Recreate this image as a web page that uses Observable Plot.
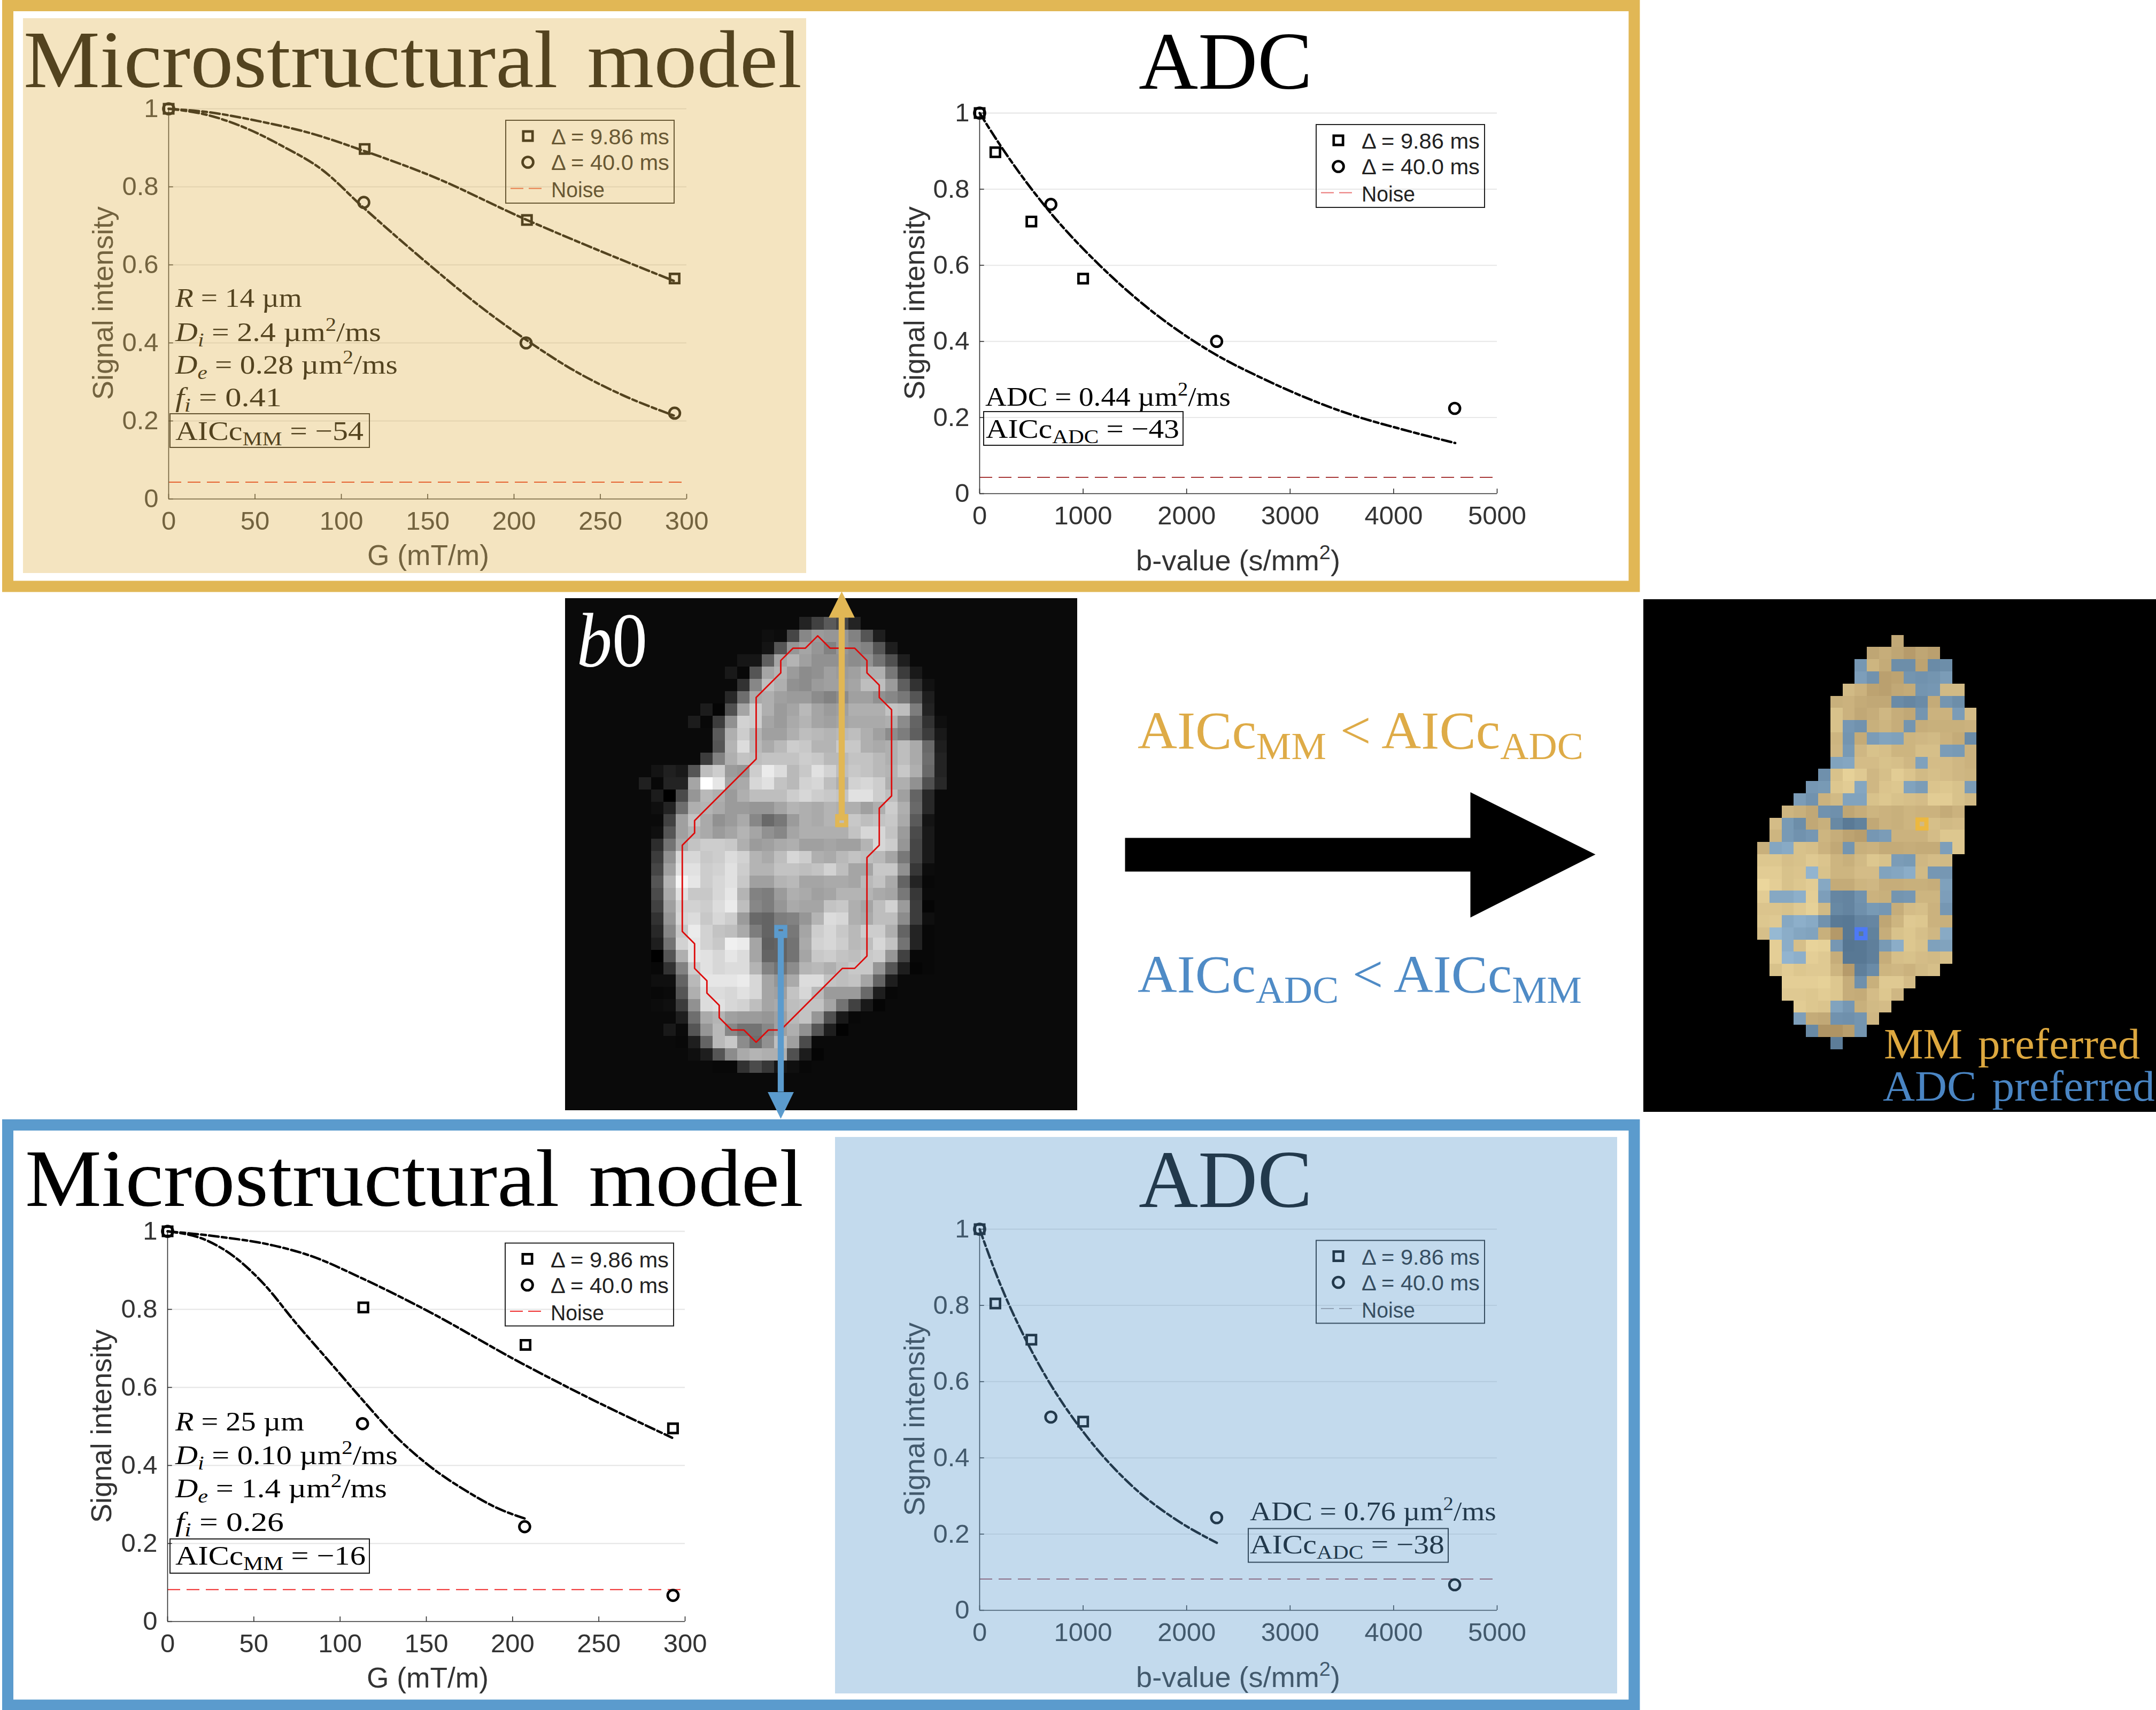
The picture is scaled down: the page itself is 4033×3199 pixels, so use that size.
<!DOCTYPE html>
<html>
<head>
<meta charset="utf-8">
<script src="https://cdn.jsdelivr.net/npm/d3@7"></script>
<script src="https://cdn.jsdelivr.net/npm/@observablehq/plot@0.6"></script>
<style>
html,body{margin:0;padding:0;background:#fff}
#page{position:relative;width:4033px;height:3199px;overflow:hidden;background:#fff}
#page>svg{position:absolute;display:block;max-width:none}
</style>
</head>
<body>
<div id="page"></div>
<script>
// ---------- series values ----------
const gValues = [0, 113.5, 207.5, 293];
const gValuesShort = [0, 113, 207, 293];
const bSquares = [0, 152, 500, 1000];
const bCircles = [0, 688, 2290, 4590];

const mmSquaresTop = [1, 0.897, 0.715, 0.565];
const mmCirclesTop = [1, 0.76, 0.40, 0.22];
const adcSquaresTop = [1, 0.897, 0.715, 0.565];
const adcCirclesTop = [1, 0.76, 0.40, 0.224];
const mmSquaresBottom = [1, 0.805, 0.709, 0.495];
const mmCirclesBottom = [1, 0.507, 0.243, 0.067];
const adcSquaresBottom = [1, 0.805, 0.71, 0.495];
const adcCirclesBottom = [1, 0.507, 0.243, 0.067];

const fitTopSquareG = [0, 22.5, 52.5, 82.5, 112.5, 151.5, 207, 241.5, 292.5];
const fitTopSquareS = [1, 0.9915, 0.968, 0.937, 0.893, 0.829, 0.716, 0.651, 0.559];
const fitTopCircleG = [0, 22.5, 46.5, 66, 88.5, 112.5, 151.5, 178.5, 207, 232.5, 262.5, 292.5];
const fitTopCircleS = [1, 0.984, 0.947, 0.904, 0.845, 0.748, 0.598, 0.5, 0.408, 0.335, 0.267, 0.214];
const fitTopAdcB = [0, 200, 648, 1160, 1570, 2240, 2755, 3630, 4040, 4595];
const fitTopAdcS = [1, 0.915, 0.75, 0.60, 0.50, 0.372, 0.30, 0.204, 0.172, 0.133];
const fitBottomSquareG = [0, 32, 59, 83, 113, 149, 206, 242, 292.5];
const fitBottomSquareS = [1, 0.985, 0.966, 0.937, 0.879, 0.80, 0.66, 0.578, 0.471];
const fitBottomCircleG = [0, 23, 38, 56, 74, 95, 113, 131, 152, 173, 191, 207];
const fitBottomCircleS = [1, 0.976, 0.937, 0.864, 0.767, 0.66, 0.568, 0.48, 0.398, 0.335, 0.291, 0.264];
const fitBottomAdcB = [0, 185, 442, 647, 1007, 1470, 1880, 2292];
const fitBottomAdcS = [1, 0.865, 0.712, 0.61, 0.466, 0.327, 0.241, 0.177];

const noiseTop = 0.043;
const noiseBottom = 0.082;

// ---------- tick labels ----------
const yTicks = [0, 0.2, 0.4, 0.6, 0.8, 1];
const gTicks = [0, 50, 100, 150, 200, 250, 300];
const bTicks = [0, 1000, 2000, 3000, 4000, 5000];

// ---------- b0 image: first column of each row, then grey levels from row 2 ---------
const b0FirstColumn = [19,16,16,14,13,14,13,11,10,12,12,11,7,6,7,7,7,7,7,7,7,7,7,7,7,7,7,7,7,7,7,7,8,8,9,10,12];
const b0Rows = [
[35,65,90,70,35],
[15,12,70,135,155,150,150,130,85,30],
[20,85,150,165,150,130,150,140,130,85,30],
[22,22,95,165,180,160,145,145,145,140,145,115,80,30],
[25,8,85,165,180,155,140,145,160,155,160,175,175,120,60,25],
[50,135,190,175,145,140,155,160,160,165,190,190,155,95,50,18],
[40,110,170,175,160,155,155,140,130,140,160,160,145,135,120,85,30],
[28,5,80,165,205,175,155,165,185,165,155,160,175,175,175,195,190,125,35],
[28,8,60,145,210,205,165,155,170,180,165,160,165,170,170,170,175,140,100,50,15],
[90,175,205,180,160,160,175,190,185,180,185,190,175,160,140,125,95,60,25],
[85,180,220,185,170,185,205,200,180,180,200,200,175,170,175,190,170,105,30],
[60,130,175,195,190,195,195,195,205,200,185,185,195,195,185,175,190,170,110,35],
[20,32,25,85,190,205,155,150,205,235,220,185,200,225,210,190,200,195,185,180,200,175,105,35],
[32,8,35,35,165,255,230,165,170,215,225,195,185,210,215,190,175,210,215,205,175,175,145,80,40],
[28,0,75,150,185,175,155,175,190,190,190,205,215,205,200,195,225,225,205,190,160,100,40],
[15,35,110,175,180,170,155,155,150,150,165,180,175,170,180,175,175,160,175,205,175,105,40],
[10,65,160,195,170,145,155,170,135,105,120,155,175,170,180,190,200,190,195,200,170,90,20],
[15,85,160,180,170,155,165,180,165,145,135,165,175,175,175,175,195,215,215,195,155,75,25],
[45,115,170,195,205,205,200,175,155,160,170,175,160,160,165,160,160,180,215,205,150,70,25],
[60,145,215,215,200,205,220,210,180,170,190,215,205,175,170,185,195,190,185,165,120,70,25],
[70,160,225,225,205,210,225,205,180,180,195,195,190,195,210,190,165,165,200,200,145,55,12],
[85,180,245,230,205,215,225,200,160,160,180,185,165,165,170,170,165,185,195,170,100,35,8],
[75,170,225,200,200,215,230,180,130,125,155,175,170,160,165,180,180,180,170,165,120,55,10],
[65,160,210,210,205,220,235,190,135,125,150,170,165,165,195,200,175,165,190,210,155,60,5],
[50,150,215,220,200,215,205,155,105,100,125,130,150,180,220,215,175,170,190,190,140,60,15],
[40,135,200,235,210,195,190,170,125,100,105,120,165,205,215,200,185,205,205,175,100,35,8],
[30,115,210,230,210,200,240,235,165,95,100,115,170,210,215,205,185,190,215,195,115,35,8],
[0,85,175,230,225,215,230,220,165,100,100,115,165,200,205,195,190,200,205,150,65,8,8],
[8,50,130,205,225,215,220,220,180,130,115,140,180,185,175,190,200,200,150,85,30,5,8],
[15,15,100,185,230,230,230,235,215,165,150,170,220,220,195,190,195,165,100,30,10],
[8,10,85,175,220,220,215,225,215,165,160,195,215,185,155,155,155,105,30,8],
[12,15,60,145,220,225,215,210,190,165,170,190,195,195,165,115,65,25,5],
[10,30,110,170,180,160,155,155,150,160,185,195,150,80,25,8],
[25,10,85,150,185,135,115,115,135,160,175,145,85,30,3],
[8,30,100,185,200,140,110,145,190,160,75,10],
[15,30,85,140,170,180,175,175,80,28,5],
[8,8,50,75,55,22,15,8]
];
const roiColumns = [20,21,23,24,24,25,25,26,26,25,25,24,24,23,22,17,16,15,14,13,12,12,11,11,10,10,9,9,10,10,15,15,17,17,18,19,20];
const roiRows = [3,4,4,5,6,7,8,9,16,17,20,21,29,30,30,35,35,36,35,35,34,33,32,31,30,28,27,20,19,18,13,8,6,5,4,4,3];

// ---------- preference map: g = MM preferred, b = ADC preferred ----------
const preferenceRows = [
"...........g......",
".........gggggg...",
"........bggbbgbb..",
"........bbggbbbb..",
".......ggggggbbgg.",
"......gggggbbbgbb.",
"......gggggggbggbg",
"......gbbgggbggggg",
"......gbgbbbgggggb",
"......gbgggggggbbg",
"......bbgggggbgggg",
".....bgggggggggggg",
"....bbggbgggbbgggb",
"...bbggbbggggggggg",
"..gggbbgggggggggg.",
".gbbggbbbgggggggg.",
".gbbbggggbbgggggg.",
"gbbggggbgggggggbg.",
"gggggggggggbbggg..",
"ggggbgggggbbbgbb..",
"gggggbgggggggggb..",
"gbbbgbbbbggbbggb..",
"ggggggbbbbbggggb..",
"ggbbbbbbbbgggggg..",
"gbbbbggbbbgggggb..",
".gbgggbbbbbbggbb..",
".gbbgggbbbgggggg..",
".gggggggbbggggg...",
"..ggggggbgggg.....",
"..gggggggggg......",
"...gggbbggg.......",
"...bggbbbg........",
"....bgggb.........",
"......b..........."
];
const mapFirstColumn = 9, mapFirstRow = 3;
const voxelMM = {column: 22, row: 18};
const voxelADC = {column: 17, row: 27};

// ---------- colours ----------
const GOLD = "#e1b755", BLUE = "#5b9bcd", INK = "#2c2c2c";
const SANS = "Liberation Sans", SERIF = "Liberation Serif";

const page = document.getElementById("page");
const pts = (xs, ys) => xs.map((x, i) => ({x, y: ys[i]}));

function place(svg, left, top) {
  svg.style.left = left + "px";
  svg.style.top = top + "px";
  page.appendChild(svg);
}

// ---------- the four charts ----------
function chart(c) {
  const mL = 120, mR = 70, mT = 30, mB = 90;
  const xmax = c.xTicks[c.xTicks.length - 1];
  const svg = Plot.plot({
    width: c.x1 - c.x0 + mL + mR,
    height: c.y0 - c.y1 + mT + mB,
    marginLeft: mL, marginRight: mR, marginTop: mT, marginBottom: mB,
    style: {background: "none", overflow: "visible", maxWidth: "none", fontFamily: SANS},
    x: {domain: [0, xmax]},
    y: {domain: [0, 1]},
    marks: [
      Plot.ruleY(yTicks.slice(1), {stroke: "#e4e4e4", strokeWidth: 1.8}),
      Plot.ruleY([c.noise], {stroke: c.noiseColor, strokeWidth: 2, strokeDasharray: "24 12"}),
      Plot.ruleX([0], {stroke: INK, strokeWidth: 1.6}),
      Plot.ruleY([0], {stroke: INK, strokeWidth: 1.6}),
      Plot.ruleX(c.xTicks, {y1: 0, y2: 0.0125, stroke: INK, strokeWidth: 1.6}),
      Plot.ruleY(yTicks, {x1: 0, x2: xmax * 0.009, stroke: INK, strokeWidth: 1.6}),
      Plot.axisX({ticks: c.xTicks, tickSize: 0, tickPadding: 23, label: null, fontSize: 49,
        tickFormat: d => String(d), color: "#333", fontFamily: SANS}),
      Plot.axisY({ticks: yTicks, tickSize: 0, tickPadding: 19, label: null, fontSize: 49,
        tickFormat: d => String(d), color: "#333", fontFamily: SANS}),
      ...c.fits.map(f => Plot.line(f, {x: "x", y: "y", curve: "monotone-x", stroke: "#000",
        strokeWidth: 4.5, strokeDasharray: "18 6 9 6"})),
      Plot.dot(c.squares, {x: "x", y: "y", symbol: "square", r: 9.8, fill: "none", stroke: "#000", strokeWidth: 4.7}),
      Plot.dot(c.circles, {x: "x", y: "y", symbol: "circle", r: 10, fill: "none", stroke: "#000", strokeWidth: 4.7})
    ]
  });
  place(svg, c.x0 - mL, c.y1 - mT);
}

chart({x0: 315, x1: 1284, y1: 203, y0: 933, xTicks: gTicks, noise: noiseTop, noiseColor: "#e8331f",
  squares: pts(gValues, mmSquaresTop), circles: pts(gValuesShort, mmCirclesTop),
  fits: [pts(fitTopSquareG, fitTopSquareS), pts(fitTopCircleG, fitTopCircleS)]});
chart({x0: 1832, x1: 2800, y1: 211, y0: 923, xTicks: bTicks, noise: noiseTop, noiseColor: "#a83a3a",
  squares: pts(bSquares, adcSquaresTop), circles: pts(bCircles, adcCirclesTop),
  fits: [pts(fitTopAdcB, fitTopAdcS)]});
chart({x0: 313, x1: 1281, y1: 2303, y0: 3033, xTicks: gTicks, noise: noiseBottom, noiseColor: "#ef2a2a",
  squares: pts(gValues, mmSquaresBottom), circles: pts(gValuesShort, mmCirclesBottom),
  fits: [pts(fitBottomSquareG, fitBottomSquareS), pts(fitBottomCircleG, fitBottomCircleS)]});
chart({x0: 1832, x1: 2800, y1: 2299, y0: 3012, xTicks: bTicks, noise: noiseBottom, noiseColor: "#a85560",
  squares: pts(bSquares, adcSquaresBottom), circles: pts(bCircles, adcCirclesBottom),
  fits: [pts(fitBottomAdcB, fitBottomAdcS)]});

// ---------- b0 image ----------
const b0Cells = b0Rows.flatMap((vals, i) => vals.map((v, j) => ({
  column: b0FirstColumn[i] + j, row: i + 2, v})));
const b0Lookup = new Map(b0Cells.map(d => [d.column + "," + d.row, d.v]));
const roiPath = pts(roiColumns, roiRows);

function arrowHead(column, baseRow, tipRow) {
  return [{x: column - 1.06, y: baseRow}, {x: column + 1.06, y: baseRow}, {x: column, y: tipRow}];
}
const mmColumn = voxelMM.column + 0.45, adcColumn = voxelADC.column + 0.5;
const b0Svg = Plot.plot({
  width: 958, height: 958, margin: 0,
  style: {background: "#0a0a0a", overflow: "visible", maxWidth: "none"},
  x: {domain: [0, 41.6], axis: null},
  y: {domain: [42.04, 0.46], axis: null},
  color: {type: "linear", domain: [0, 255], range: ["#000", "#fff"]},
  marks: [
    Plot.rect(b0Cells, {x1: "column", x2: d => d.column + 1, y1: "row", y2: d => d.row + 1, fill: "v",
      inset: 0, shapeRendering: "crispEdges"}),
    Plot.line(roiPath, {x: d => d.x + 0.5, y: d => d.y + 0.5, stroke: "#dd0b0b", strokeWidth: 2.8}),
    Plot.ruleX([mmColumn], {y1: voxelMM.row + 0.5, y2: 2.02, stroke: GOLD, strokeWidth: 11.4}),
    Plot.line(arrowHead(mmColumn, 2.02, -0.1), {x: "x", y: "y", fill: GOLD, stroke: "none"}),
    Plot.dot([voxelMM], {x: mmColumn, y: voxelMM.row + 0.5, symbol: "square", r: 9.3, fill: "none", stroke: GOLD, strokeWidth: 8}),
    Plot.ruleX([adcColumn], {y1: voxelADC.row + 0.5, y2: 40.54, stroke: BLUE, strokeWidth: 11.4}),
    Plot.line(arrowHead(adcColumn, 40.54, 42.71), {x: "x", y: "y", fill: BLUE, stroke: "none"}),
    Plot.dot([voxelADC], {x: adcColumn, y: voxelADC.row + 0.5, symbol: "square", r: 9.3, fill: "none", stroke: BLUE, strokeWidth: 8})
  ]
});
place(b0Svg, 1057, 1119);

// ---------- preference map ----------
function mapColour(kind, v) {
  const t = Math.max(v === undefined ? 150 : v, 95);
  return kind === "g"
    ? `rgb(${122 + 0.46 * t},${89 + 0.51 * t},${51 + 0.43 * t})`
    : `rgb(${42 + 0.46 * t},${72 + 0.48 * t},${101 + 0.47 * t})`;
}
const mapCells = preferenceRows.flatMap((s, r) => [...s].flatMap((k, c) => k === "." ? [] : [{
  column: c + mapFirstColumn, row: r + mapFirstRow,
  colour: mapColour(k, b0Lookup.get((c + mapFirstColumn) + "," + (r + mapFirstRow)))}]));
const mapSvg = Plot.plot({
  width: 959, height: 959, margin: 0,
  style: {background: "#000", overflow: "visible", maxWidth: "none"},
  x: {domain: [-0.34, 41.72], axis: null},
  y: {domain: [42.14, 0.08], axis: null},
  color: {type: "identity"},
  marks: [
    Plot.rect(mapCells, {x1: "column", x2: d => d.column + 1, y1: "row", y2: d => d.row + 1, fill: "colour",
      inset: 0, shapeRendering: "crispEdges"}),
    Plot.dot([voxelMM], {x: d => d.column + 0.5, y: d => d.row + 0.5, symbol: "square", r: 9.3, fill: "none", stroke: "#ecb83f", strokeWidth: 8}),
    Plot.dot([voxelADC], {x: d => d.column + 0.5, y: d => d.row + 0.5, symbol: "square", r: 9.3, fill: "none", stroke: "#4d79f5", strokeWidth: 8})
  ]
});
place(mapSvg, 3074, 1121);

// ---------- text layer (fitted to the widths) ----------
const textSvg = d3.create("svg").attr("width", 4033).attr("height", 3199).style("left", 0).style("top", 0);
page.appendChild(textSvg.node());
function put(o) {
  const size = o.size;
  const t = textSvg.append("text").attr("font-family", o.font || SERIF).attr("font-size", size)
    .attr("fill", o.fill || "#000").attr("text-anchor", o.anchor || "start").attr("xml:space", "preserve");
  if (o.wordSpacing) t.attr("word-spacing", o.wordSpacing);
  let off = 0;
  o.s.split(/(\*[^*]+\*|_[^_]+_|\^[^^]+\^)/).filter(Boolean).forEach(p => {
    const mark = p[0], body = p.slice(1, -1);
    const ts = t.append("tspan");
    let target = 0;
    if (mark === "*") { ts.text(body).attr("font-style", "italic"); }
    else if (mark === "_") {
      target = 0.2 * size;
      ts.text(body).attr("font-size", size * 0.72);
      if (/^[a-z]+$/.test(body)) ts.attr("font-style", "italic");
    } else if (mark === "^") {
      target = -0.38 * size;
      ts.text(body).attr("font-size", size * 0.7);
    } else { ts.text(p); }
    ts.attr("dy", target - off);
    off = target;
  });
  const k = o.width ? o.width / t.node().getComputedTextLength() : 1;
  t.attr("transform", `translate(${o.x},${o.y}) rotate(${o.rotate || 0}) scale(${k},1)`);
}

const titleLines = [
  {s: "Microstructural model", x: 44, y: 163, size: 152, width: 1456, wordSpacing: 14},
  {s: "ADC", x: 2130, y: 166, size: 152, width: 325},
  {s: "Microstructural model", x: 47, y: 2256, size: 152, width: 1456, wordSpacing: 14},
  {s: "ADC", x: 2130, y: 2258, size: 152, width: 325}
];
const parameterLines = [
  {s: "*R* = 14 µm", x: 328, y: 574, width: 237},
  {s: "*D*_i_ = 2.4 µm^2^/ms", x: 328, y: 638, width: 385},
  {s: "*D*_e_ = 0.28 µm^2^/ms", x: 328, y: 699, width: 416},
  {s: "*f*_i_ = 0.41", x: 328, y: 760, width: 199},
  {s: "AICc_MM_ = −54", x: 328, y: 823, width: 352},
  {s: "ADC = 0.44 µm^2^/ms", x: 1843, y: 759, width: 459},
  {s: "AICc_ADC_ = −43", x: 1844, y: 819, width: 362},
  {s: "*R* = 25 µm", x: 328, y: 2676, width: 241},
  {s: "*D*_i_ = 0.10 µm^2^/ms", x: 328, y: 2739, width: 416},
  {s: "*D*_e_ = 1.4 µm^2^/ms", x: 328, y: 2801, width: 396},
  {s: "*f*_i_ = 0.26", x: 328, y: 2864, width: 203},
  {s: "AICc_MM_ = −16", x: 328, y: 2927, width: 356},
  {s: "ADC = 0.76 µm^2^/ms", x: 2338, y: 2844, width: 461},
  {s: "AICc_ADC_ = −38", x: 2338, y: 2906, width: 364}
];
const captionLines = [
  {s: "*b*0", x: 1079, y: 1247, size: 145, width: 132, fill: "#fff"},
  {s: "AICc_MM_ < AICc_ADC_", x: 2128, y: 1400, size: 100, width: 834, fill: "#deab47"},
  {s: "AICc_ADC_ < AICc_MM_", x: 2128, y: 1856, size: 100, width: 831, fill: "#4f8bc6"},
  {s: "MM preferred", x: 3524, y: 1980, size: 80, width: 479, wordSpacing: 8, fill: "#dda83f"},
  {s: "ADC preferred", x: 3522, y: 2059, size: 80, width: 509, wordSpacing: 8, fill: "#4a85c3"}
];
const axisLabels = [
  {s: "Signal intensity", x: 211, y: 567, rotate: -90},
  {s: "Signal intensity", x: 1729, y: 567, rotate: -90},
  {s: "Signal intensity", x: 208, y: 2668, rotate: -90},
  {s: "Signal intensity", x: 1729, y: 2655, rotate: -90},
  {s: "G (mT/m)", x: 801, y: 1057, width: 228},
  {s: "b-value (s/mm^2^)", x: 2316, y: 1067, width: 382},
  {s: "G (mT/m)", x: 800, y: 3157, width: 228},
  {s: "b-value (s/mm^2^)", x: 2316, y: 3156, width: 382}
];
titleLines.forEach(put);
parameterLines.forEach(o => put({size: 50, ...o}));
captionLines.forEach(put);
axisLabels.forEach(o => put({size: 54, font: SANS, fill: "#333", anchor: "middle", width: o.width || 362, ...o}));

// ---------- legends ----------
const legendEntries = ["Δ = 9.86 ms", "Δ = 40.0 ms", "Noise"];
const legendWidths = [221, 221, 100];
const legendOrigins = [
  {x: 946, y: 225, noise: "#ee5a45"},
  {x: 2462, y: 233, noise: "#ea7474"},
  {x: 945, y: 2325.5, noise: "#ee2f2f"},
  {x: 2462, y: 2320.5, noise: "#b0a6a6"}
];
legendOrigins.forEach(l => legendEntries.forEach((s, i) =>
  put({s, x: l.x + 85, y: l.y + [45, 93, 144][i], size: 41, width: legendWidths[i], font: SANS, fill: "#222"})));

// ---------- frames, boxes, big arrow, legend glyphs, tints ----------
const frames = [
  {x1: 14.5, x2: 3057, y1: 10.5, y2: 1097, stroke: GOLD},
  {x1: 14.5, x2: 3057, y1: 2104.5, y2: 3190, stroke: BLUE}
];
const resultBoxes = [
  {x1: 318, x2: 691, y1: 774, y2: 837},
  {x1: 1840, x2: 2213, y1: 770, y2: 833},
  {x1: 318, x2: 691, y1: 2879, y2: 2943},
  {x1: 2335, x2: 2709, y1: 2859.5, y2: 2922.6}
];
const tints = [
  {x1: 43, x2: 1508, y1: 34, y2: 1072, fill: GOLD},
  {x1: 1562, x2: 3025, y1: 2127, y2: 3168, fill: BLUE}
];
const bigArrow = [
  {x: 2104, y: 1567}, {x: 2750, y: 1567}, {x: 2750, y: 1481.5}, {x: 2984, y: 1598},
  {x: 2750, y: 1716}, {x: 2750, y: 1630}, {x: 2104, y: 1630}
];
const layout = Plot.plot({
  width: 4033, height: 3199, margin: 0,
  style: {background: "none", overflow: "visible", maxWidth: "none"},
  x: {domain: [0, 4033], axis: null},
  y: {domain: [3199, 0], axis: null},
  marks: [
    Plot.rect(frames, {x1: "x1", x2: "x2", y1: "y1", y2: "y2", fill: "none", stroke: "stroke", strokeWidth: 21}),
    Plot.rect(resultBoxes, {x1: "x1", x2: "x2", y1: "y1", y2: "y2", fill: "none", stroke: "#1a1a1a", strokeWidth: 2, inset: 0}),
    Plot.line(bigArrow, {x: "x", y: "y", fill: "#000", stroke: "none"}),
    Plot.rect(legendOrigins, {x1: "x", x2: d => d.x + 315, y1: "y", y2: d => d.y + 155, fill: "none", stroke: "#222", strokeWidth: 2, inset: 0}),
    Plot.dot(legendOrigins, {x: d => d.x + 41, y: d => d.y + 29, symbol: "square", r: 9.8, fill: "none", stroke: "#000", strokeWidth: 4.7}),
    Plot.dot(legendOrigins, {x: d => d.x + 41, y: d => d.y + 78, symbol: "circle", r: 10, fill: "none", stroke: "#000", strokeWidth: 4.7}),
    Plot.ruleY(legendOrigins, {y: d => d.y + 127, x1: d => d.x + 9, x2: d => d.x + 67, stroke: "noise", strokeWidth: 2, strokeDasharray: "24 10"}),
    Plot.rect(tints, {x1: "x1", x2: "x2", y1: "y1", y2: "y2", fill: "fill", fillOpacity: 0.37, inset: 0})
  ]
});
place(layout, 0, 0);
</script>
</body>
</html>
